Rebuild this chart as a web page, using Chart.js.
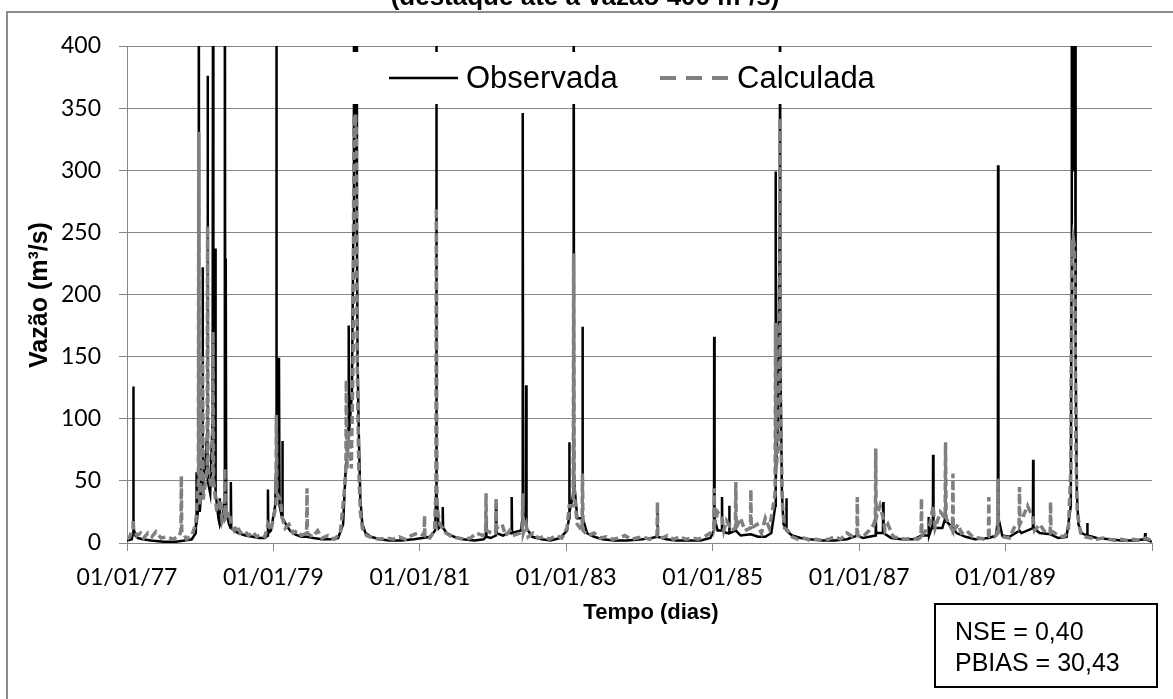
<!DOCTYPE html>
<html>
<head>
<meta charset="utf-8">
<script src="https://cdn.jsdelivr.net/npm/chart.js@4"></script>
<style>
  body { margin: 0; background: #fff; }
  canvas { display: block; }
</style>
</head>
<body>
<canvas id="vazao" width="1173" height="699"></canvas>
<script>
// DATA
const titulo = "(destaque até a vazão 400 m³/s)";
const tickDatas = ["1977-01-01", "1979-01-01", "1981-01-01", "1983-01-01", "1985-01-01", "1987-01-01", "1989-01-01", "1991-01-01"];
const tickRotulos = ["01/01/77", "01/01/79", "01/01/81", "01/01/83", "01/01/85", "01/01/87", "01/01/89", ""];
const estatisticas = ["NSE = 0,40", "PBIAS = 30,43"];

const obsDatas = [
  "1977-01-01","1977-01-25","1977-01-31","1977-02-01","1977-02-02","1977-02-04","1977-02-12","1977-02-25","1977-03-20","1977-05-01",
  "1977-07-01","1977-09-01","1977-10-15","1977-11-20","1977-12-10","1977-12-12","1977-12-13","1977-12-15","1977-12-23","1977-12-25",
  "1977-12-27","1977-12-30",
  "1978-01-06","1978-01-12","1978-01-13","1978-01-15","1978-01-25","1978-02-06","1978-02-07","1978-02-09","1978-02-20","1978-03-04",
  "1978-03-06","1978-03-08","1978-03-17","1978-03-18","1978-03-20","1978-04-02","1978-04-08","1978-04-09","1978-04-11","1978-04-25",
  "1978-05-03","1978-05-04","1978-05-06","1978-05-08","1978-05-09","1978-05-11","1978-05-25","1978-06-02","1978-06-03","1978-06-05",
  "1978-06-20","1978-07-10","1978-08-15","1978-09-20","1978-10-20","1978-11-20","1978-12-04","1978-12-05","1978-12-07","1978-12-20",
  "1979-01-10","1979-01-15","1979-01-16","1979-01-18","1979-01-28","1979-01-29","1979-02-01","1979-02-14","1979-02-15","1979-02-17",
  "1979-03-05","1979-03-25","1979-04-20","1979-05-20","1979-06-18","1979-07-20","1979-09-01","1979-10-15","1979-11-20","1979-12-15",
  "1979-12-28",
  "1980-01-08","1980-01-11","1980-01-12","1980-01-14","1980-01-28","1980-02-04","1980-02-07","1980-02-09","1980-02-11","1980-02-13",
  "1980-02-15","1980-02-17","1980-02-19","1980-02-22","1980-02-25","1980-03-02","1980-03-10","1980-03-20","1980-04-05","1980-05-01",
  "1980-06-15","1980-08-01","1980-10-01","1980-12-01",
  "1981-01-15","1981-02-20","1981-03-18","1981-03-23","1981-03-24","1981-03-26","1981-04-05","1981-04-24","1981-04-25","1981-04-27",
  "1981-05-15","1981-06-20","1981-08-01","1981-10-01","1981-11-15","1981-11-26","1981-11-27","1981-11-29","1981-12-20",
  "1982-01-15","1982-01-16","1982-01-18","1982-02-20","1982-03-15","1982-04-03","1982-04-04","1982-04-06","1982-05-20","1982-05-28",
  "1982-05-29","1982-05-31","1982-06-14","1982-06-15","1982-06-17","1982-07-15","1982-09-01","1982-10-15","1982-12-01",
  "1983-01-05","1983-01-15","1983-01-16","1983-01-18","1983-02-06","1983-02-07","1983-02-09","1983-02-25","1983-03-22","1983-03-23",
  "1983-03-25","1983-04-15","1983-05-20","1983-07-01","1983-09-01","1983-11-01",
  "1984-01-15","1984-03-01","1984-03-30","1984-03-31","1984-04-02","1984-05-15","1984-07-01","1984-09-01","1984-11-01","1984-12-20",
  "1985-01-07","1985-01-08","1985-01-10","1985-01-25","1985-02-15","1985-02-16","1985-02-18","1985-03-10","1985-03-23","1985-03-24",
  "1985-03-26","1985-04-26","1985-05-20","1985-07-10","1985-08-15","1985-09-20","1985-10-20","1985-11-09","1985-11-10","1985-11-12",
  "1985-11-22","1985-11-30","1985-12-02","1985-12-04","1985-12-12","1985-12-20",
  "1986-01-02","1986-01-03","1986-01-05","1986-02-01","1986-03-15","1986-05-01","1986-07-01","1986-09-01","1986-11-01","1986-12-23",
  "1987-01-20","1987-03-24","1987-03-25","1987-03-27","1987-04-30","1987-05-01","1987-05-03","1987-06-10","1987-08-01","1987-10-01",
  "1987-11-08","1987-12-13","1987-12-14","1987-12-16",
  "1988-01-04","1988-01-05","1988-01-07","1988-02-20","1988-03-06","1988-03-07","1988-03-09","1988-04-13","1988-05-01","1988-06-15",
  "1988-08-01","1988-10-09","1988-11-15","1988-11-23","1988-11-24","1988-11-26","1988-12-15",
  "1989-01-20","1989-03-11","1989-03-20","1989-05-17","1989-05-18","1989-05-20","1989-06-20","1989-08-13","1989-09-20","1989-11-01",
  "1989-11-22","1989-11-25","1989-11-27","1989-11-29","1989-12-01","1989-12-03","1989-12-05","1989-12-07","1989-12-09","1989-12-11",
  "1989-12-13","1989-12-16","1989-12-22","1989-12-30",
  "1990-01-15","1990-02-11","1990-02-12","1990-02-14","1990-04-01","1990-06-01","1990-08-01","1990-10-01","1990-11-26","1990-11-28",
  "1990-11-30","1990-12-31"
];
const obsVazao = [
  2,3,8,126,53,12,6,4,3,2,
  1,1,2,3,8,20,57,15,30,560,
  60,25,
  40,60,222,40,60,90,376,50,40,100,
  480,90,80,237,40,20,15,36,15,20,
  40,600,80,60,229,25,15,12,49,12,
  10,8,6,5,4,4,6,43,8,10,
  30,60,520,90,40,149,30,20,82,20,
  15,10,7,5,5,4,3,3,4,15,
  60,
  80,100,175,90,120,250,700,300,650,350,
  700,300,600,250,150,90,35,15,8,5,
  3,2,2,3,
  4,5,10,40,560,40,12,15,29,12,
  8,5,3,2,3,5,20,5,4,
  6,32,8,6,8,8,37,8,10,20,
  346,30,20,127,12,5,3,2,4,
  10,20,81,25,40,600,50,20,20,174,
  20,8,5,3,2,2,
  3,4,5,30,5,3,2,2,2,4,
  10,166,20,10,10,37,10,8,8,30,
  8,10,6,7,5,5,8,30,299,50,
  100,250,800,150,40,15,
  12,36,10,6,4,3,2,2,3,6,
  4,6,22,8,8,33,8,4,3,3,
  6,6,21,6,
  15,71,12,12,20,43,18,12,8,5,
  3,4,6,20,304,20,6,
  5,10,8,12,67,12,8,7,4,5,
  30,200,600,300,700,350,650,400,600,300,
  500,150,40,15,
  8,6,16,6,4,3,2,2,3,8,
  3,1
];

const calcDatas = [
  "1977-01-01","1977-01-15","1977-01-25","1977-01-31","1977-02-01","1977-02-03","1977-02-20","1977-03-10","1977-03-25","1977-04-15",
  "1977-05-05","1977-05-25","1977-06-20","1977-07-20","1977-08-20","1977-09-20","1977-09-27","1977-09-29","1977-10-01","1977-10-25",
  "1977-11-20","1977-12-10","1977-12-23","1977-12-25","1977-12-27","1977-12-30",
  "1978-01-05","1978-01-11","1978-01-13","1978-01-16","1978-02-05","1978-02-07","1978-02-09","1978-02-25","1978-03-04","1978-03-06",
  "1978-03-09","1978-03-25","1978-04-10","1978-04-20","1978-05-03","1978-05-04","1978-05-07","1978-05-25","1978-06-05","1978-06-20",
  "1978-07-05","1978-07-20","1978-08-10","1978-08-30","1978-09-20","1978-10-10","1978-10-30","1978-11-20","1978-12-05","1978-12-20",
  "1979-01-14","1979-01-16","1979-01-19","1979-02-05","1979-02-15","1979-03-01","1979-03-20","1979-04-10","1979-04-30","1979-05-20",
  "1979-06-16","1979-06-18","1979-06-20","1979-07-15","1979-08-10","1979-09-01","1979-10-01","1979-11-01","1979-12-01","1979-12-20",
  "1979-12-29","1979-12-31",
  "1980-01-03","1980-01-12","1980-01-25","1980-02-03","1980-02-07","1980-02-11","1980-02-15","1980-02-19","1980-02-23","1980-03-02",
  "1980-03-10","1980-03-20","1980-04-10","1980-05-10","1980-06-10","1980-07-20","1980-08-20","1980-09-20","1980-10-20","1980-11-20",
  "1980-12-20",
  "1981-01-22","1981-01-24","1981-01-26","1981-02-20","1981-03-15","1981-03-22","1981-03-24","1981-03-27","1981-04-10","1981-04-25",
  "1981-05-10","1981-06-10","1981-07-10","1981-08-10","1981-09-10","1981-10-10","1981-11-10","1981-11-25","1981-11-27","1981-11-29",
  "1981-12-25",
  "1982-01-14","1982-01-16","1982-01-18","1982-02-15","1982-03-05","1982-03-25","1982-04-10","1982-05-15","1982-05-27","1982-05-29",
  "1982-06-01","1982-06-15","1982-06-25","1982-07-20","1982-08-15","1982-09-10","1982-10-10","1982-11-10","1982-12-10",
  "1983-01-05","1983-01-16","1983-02-05","1983-02-07","1983-02-10","1983-02-25","1983-03-21","1983-03-23","1983-03-26","1983-04-20",
  "1983-05-20","1983-06-20","1983-07-20","1983-08-20","1983-09-20","1983-10-20","1983-11-20","1983-12-20",
  "1984-01-20","1984-02-20","1984-03-29","1984-03-31","1984-04-02","1984-04-25","1984-05-20","1984-06-20","1984-07-20","1984-08-20",
  "1984-09-20","1984-10-20","1984-11-20","1984-12-20",
  "1985-01-06","1985-01-08","1985-01-11","1985-01-25","1985-02-16","1985-02-25","1985-03-10","1985-03-24","1985-04-05","1985-04-24",
  "1985-04-26","1985-04-28","1985-05-20","1985-06-10","1985-07-08","1985-07-10","1985-07-12","1985-08-10","1985-09-01","1985-09-20",
  "1985-10-10","1985-10-25","1985-11-08","1985-11-10","1985-11-13","1985-11-25","1985-11-30","1985-12-02","1985-12-05","1985-12-15",
  "1985-12-25",
  "1986-01-10","1986-02-01","1986-03-01","1986-04-01","1986-05-01","1986-06-01","1986-07-01","1986-08-01","1986-09-01","1986-10-01",
  "1986-11-01","1986-12-01","1986-12-21","1986-12-23","1986-12-25",
  "1987-01-20","1987-02-20","1987-03-15","1987-03-23","1987-03-25","1987-03-27","1987-04-15","1987-05-01","1987-05-10","1987-05-25",
  "1987-06-20","1987-07-20","1987-08-20","1987-09-20","1987-10-20","1987-11-06","1987-11-08","1987-11-10","1987-12-01","1987-12-20",
  "1988-01-05","1988-01-15","1988-02-10","1988-03-05","1988-03-07","1988-03-10","1988-04-11","1988-04-13","1988-04-15","1988-05-10",
  "1988-05-25","1988-06-20","1988-07-20","1988-08-20","1988-09-20","1988-10-07","1988-10-09","1988-10-11","1988-11-05","1988-11-22",
  "1988-11-24","1988-11-26","1988-12-20",
  "1989-01-20","1989-02-20","1989-03-09","1989-03-11","1989-03-13","1989-04-20","1989-05-18","1989-05-25","1989-06-20","1989-07-20",
  "1989-08-11","1989-08-13","1989-08-15","1989-09-20","1989-10-20","1989-11-10","1989-11-22","1989-11-27","1989-12-01","1989-12-05",
  "1989-12-09","1989-12-13","1989-12-17","1989-12-24",
  "1990-01-10","1990-02-01","1990-03-01","1990-04-01","1990-05-01","1990-06-01","1990-07-01","1990-08-01","1990-09-01","1990-10-01",
  "1990-11-01","1990-12-01","1990-12-31"
];
const calcVazao = [
  3,5,10,12,19,10,6,8,4,8,
  5,9,4,5,3,6,10,54,10,3,
  6,15,50,331,60,30,
  60,50,150,35,60,255,60,45,50,170,
  50,25,35,18,25,60,20,25,15,10,
  14,8,10,6,9,5,7,5,15,10,
  30,103,40,35,20,12,15,8,10,6,
  8,44,8,5,10,4,6,3,8,40,
  60,131,
  60,90,60,150,345,320,345,330,150,60,
  25,12,6,4,3,4,3,5,3,6,
  8,
  6,22,5,4,10,40,270,30,15,12,
  8,5,4,3,4,8,6,8,40,10,
  8,
  8,36,12,15,6,10,6,8,10,40,
  8,15,5,8,4,5,3,6,4,
  12,30,30,233,40,15,10,56,10,6,
  8,4,5,3,4,6,3,4,
  5,3,6,33,6,4,6,3,5,3,
  4,3,5,8,
  10,44,15,25,20,10,18,14,10,12,
  49,12,20,10,12,43,12,15,8,20,
  12,25,40,177,60,80,200,342,100,30,
  12,
  10,5,3,4,2,3,2,3,5,3,
  8,5,6,37,6,
  5,10,15,20,76,20,30,20,10,15,
  5,4,3,4,3,5,36,6,10,15,
  30,12,25,20,81,20,10,56,10,15,
  8,10,5,4,3,5,37,6,5,8,
  52,8,5,
  4,15,15,45,15,30,20,10,15,8,
  8,33,10,6,5,10,60,244,230,244,
  240,200,80,25,
  8,5,4,3,4,3,2,3,2,3,
  2,4,2
];

// HELPERS
const DIA0 = Date.parse("1977-01-01");
const dia = s => Math.round((Date.parse(s) - DIA0) / 86400000);
const pontos = (datas, vals) => datas.map((d, i) => ({ x: dia(d), y: vals[i] }));
const tickDias = tickDatas.map(dia);

const CINZA = "#868686";

// DECORATION (frame, title, legend, stats box, axis titles)
const decoracao = {
  id: "decoracao",
  beforeDraw(chart) {
    const ctx = chart.ctx;
    ctx.save();
    ctx.strokeStyle = "#8c8c8c";
    ctx.lineWidth = 2;
    ctx.beginPath();
    ctx.moveTo(7, 699);
    ctx.lineTo(7, 12);
    ctx.lineTo(1173, 12);
    ctx.stroke();

    ctx.fillStyle = "#000";
    ctx.font = "bold 26px 'Liberation Sans', Arial";
    ctx.textAlign = "center";
    ctx.textBaseline = "alphabetic";
    ctx.fillText(titulo, 585, 5);
    ctx.restore();
  },
  afterDatasetsDraw(chart) {
    const ctx = chart.ctx;
    ctx.save();
    // legend
    ctx.fillStyle = "#fff";
    ctx.fillRect(345, 52, 555, 52);
    ctx.strokeStyle = "#000";
    ctx.lineWidth = 2.5;
    ctx.beginPath();
    ctx.moveTo(389, 78);
    ctx.lineTo(458, 78);
    ctx.stroke();
    ctx.strokeStyle = "#808080";
    ctx.lineWidth = 4;
    ctx.setLineDash([16, 10]);
    ctx.beginPath();
    ctx.moveTo(660, 78);
    ctx.lineTo(728, 78);
    ctx.stroke();
    ctx.setLineDash([]);
    ctx.fillStyle = "#000";
    ctx.font = "31px 'Liberation Sans', Arial";
    ctx.textAlign = "left";
    ctx.textBaseline = "middle";
    ctx.fillText(chart.data.datasets[0].label, 466, 79);
    ctx.fillText(chart.data.datasets[1].label, 737, 79);

    // stats box
    ctx.fillStyle = "#fff";
    ctx.fillRect(935, 604, 222, 83);
    ctx.strokeStyle = "#000";
    ctx.lineWidth = 2;
    ctx.strokeRect(935, 604, 222, 83);
    ctx.fillStyle = "#000";
    ctx.font = "25px 'Liberation Sans', Arial";
    ctx.textBaseline = "alphabetic";
    ctx.fillText(estatisticas[0], 955, 640);
    ctx.fillText(estatisticas[1], 955, 671);

    // axis titles
    ctx.font = "bold 22px 'Liberation Sans', Arial";
    ctx.textAlign = "center";
    ctx.textBaseline = "middle";
    ctx.fillText("Tempo (dias)", 651, 613);
    ctx.translate(40, 295);
    ctx.rotate(-Math.PI / 2);
    ctx.font = "bold 25px 'Liberation Sans', Arial";
    ctx.fillText("Vazão (m³/s)", 0, 0);
    ctx.restore();
  }
};

// CHART
new Chart(document.getElementById("vazao"), {
  type: "line",
  data: {
    datasets: [
      {
        label: "Observada",
        data: pontos(obsDatas, obsVazao),
        borderColor: "#000",
        borderWidth: 2.5,
        pointRadius: 0,
        tension: 0,
        order: 2
      },
      {
        label: "Calculada",
        data: pontos(calcDatas, calcVazao),
        borderColor: "#808080",
        borderWidth: 3.5,
        borderDash: [8, 4],
        pointRadius: 0,
        tension: 0,
        order: 1
      }
    ]
  },
  options: {
    responsive: false,
    animation: false,
    devicePixelRatio: 1,
    layout: { padding: { top: 46, right: 21, left: 0, bottom: 0 } },
    plugins: { legend: { display: false }, tooltip: { enabled: false } },
    scales: {
      x: {
        type: "linear",
        min: tickDias[0],
        max: tickDias[tickDias.length - 1],
        afterBuildTicks: s => { s.ticks = tickDias.map(v => ({ value: v })); },
        afterFit: s => { s.height = 156; },
        ticks: {
          color: "#000",
          font: { family: "Lato", size: 23 },
          padding: 13,
          maxRotation: 0,
          autoSkip: false,
          callback: (v, i) => tickRotulos[i]
        },
        grid: { drawOnChartArea: false, color: CINZA, tickLength: 8 },
        border: { color: CINZA, width: 1 }
      },
      y: {
        min: 0,
        max: 400,
        afterFit: s => { s.width = 127; },
        ticks: {
          stepSize: 50,
          color: "#000",
          font: { family: "Lato", size: 23 },
          padding: 18
        },
        grid: { color: CINZA, tickLength: 8 },
        border: { color: CINZA, width: 1 }
      }
    }
  },
  plugins: [decoracao]
});
</script>
</body>
</html>
